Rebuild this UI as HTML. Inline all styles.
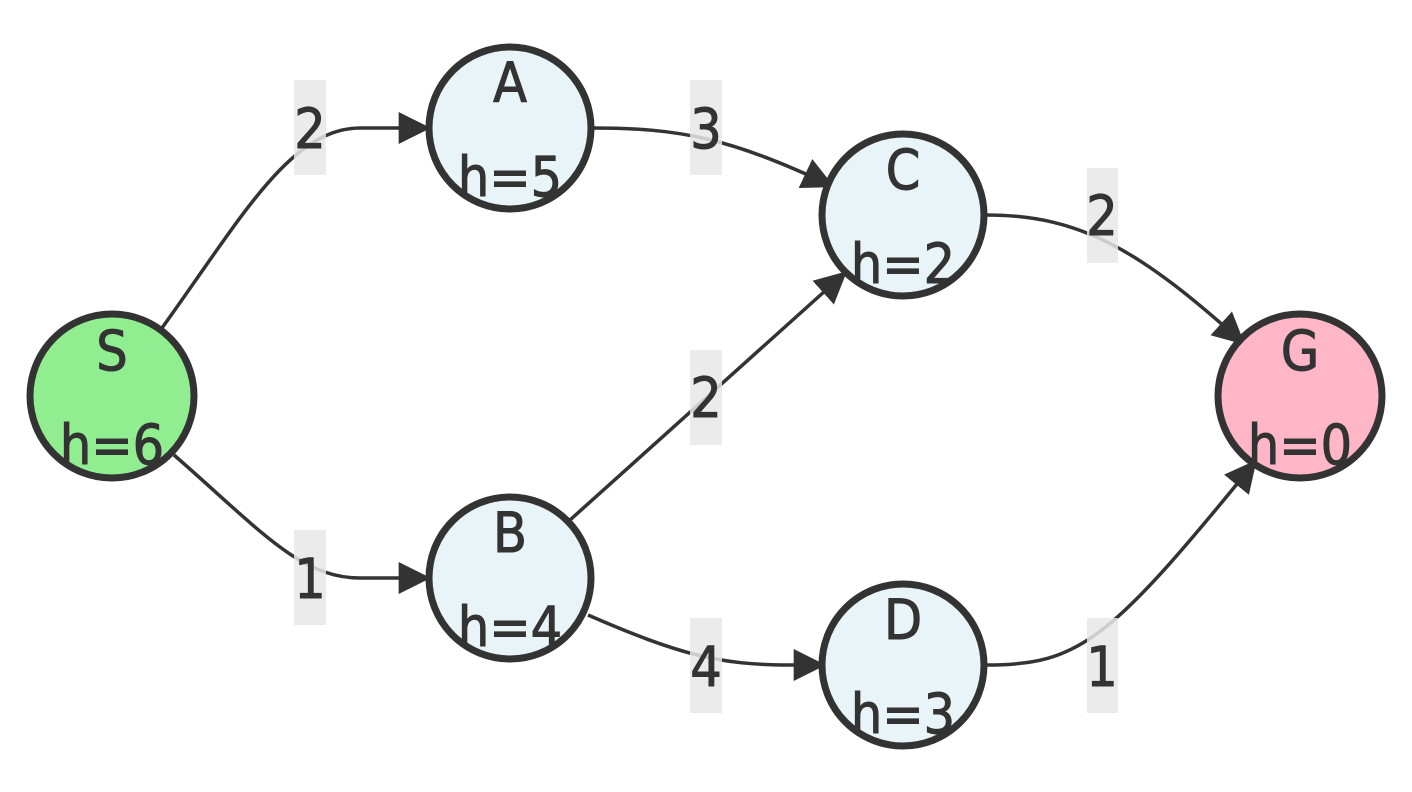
<!DOCTYPE html>
<html><head><style>
html,body{margin:0;padding:0;background:#fff;width:1412px;height:792px;overflow:hidden}
text{font-family:"DejaVu Sans Condensed","DejaVu Sans","Liberation Sans",sans-serif;font-size:55px;fill:#333;text-anchor:middle;stroke:#333;stroke-width:1}
</style></head><body>
<svg width="1412" height="792" viewBox="0 0 1412 792" xmlns="http://www.w3.org/2000/svg">
<defs>
<marker id="a" viewBox="0 0 12 12" refX="11" refY="6" markerWidth="32" markerHeight="32" markerUnits="userSpaceOnUse" orient="auto"><path d="M0,0 L12,6 L0,12 z" fill="#333"/></marker>
</defs>
<g fill="none" stroke="#333" stroke-width="3.5">
<path d="M162,328 C240,220 290,128 360,128 L428,128" marker-end="url(#a)"/>
<path d="M174,455 C260,530 300,578 360,578 L428,578" marker-end="url(#a)"/>
<path d="M593,128 C680,128 730,138 832,186" marker-end="url(#a)"/>
<path d="M570,520 L845,273" marker-end="url(#a)"/>
<path d="M588,615 C680,655 720,665 790,665 L823,665" marker-end="url(#a)"/>
<path d="M987,215 C1080,215 1140,250 1243,343" marker-end="url(#a)"/>
<path d="M987,665 C1080,665 1110,640 1255,462" marker-end="url(#a)"/>
</g>
<g fill="rgba(232,232,232,0.85)">
<rect x="294" y="80" width="32" height="95"/>
<rect x="294" y="530" width="32" height="95"/>
<rect x="690" y="80" width="32" height="95"/>
<rect x="690" y="350" width="32" height="95"/>
<rect x="690" y="618" width="32" height="95"/>
<rect x="1087" y="168" width="31" height="95"/>
<rect x="1087" y="618" width="31" height="95"/>
</g>
<text x="310" y="148">2</text>
<text x="310" y="598">1</text>
<text x="706" y="148">3</text>
<text x="706" y="417">2</text>
<text x="706" y="686">4</text>
<text x="1102" y="235">2</text>
<text x="1102" y="686">1</text>
<g stroke="#333" stroke-width="7">
<circle cx="112" cy="396" r="82" fill="#90ee90"/>
<circle cx="510" cy="128" r="81" fill="#e8f4f8"/>
<circle cx="510" cy="578" r="81" fill="#e8f4f8"/>
<circle cx="903" cy="215" r="81" fill="#e8f4f8"/>
<circle cx="903" cy="665" r="81" fill="#e8f4f8"/>
<circle cx="1300" cy="396" r="82" fill="#ffb6c6"/>
</g>
<text x="112" y="370">S</text><text x="112" y="464">h=6</text>
<text x="510" y="102">A</text><text x="510" y="196">h=5</text>
<text x="510" y="552">B</text><text x="510" y="646">h=4</text>
<text x="903" y="189">C</text><text x="903" y="283">h=2</text>
<text x="903" y="639">D</text><text x="903" y="733">h=3</text>
<text x="1300" y="370">G</text><text x="1300" y="464">h=0</text>
</svg>
</body></html>
